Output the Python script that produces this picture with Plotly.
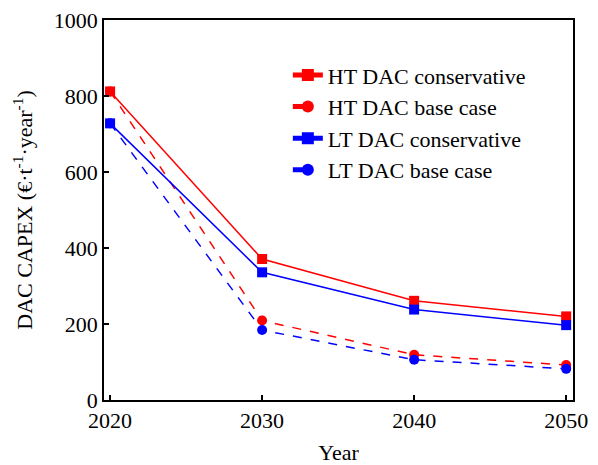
import plotly.graph_objects as go

years = [2020, 2030, 2040, 2050]
ht_conservative = [812, 371, 261, 220]
ht_base = [812, 209, 119, 92]
lt_conservative = [728, 336, 238, 197]
lt_base = [728, 184, 106, 82]

series = [
    ("HT DAC conservative", ht_conservative, "#ff0000", "solid", "square"),
    ("HT DAC base case", ht_base, "#ff0000", "dash", "circle"),
    ("LT DAC conservative", lt_conservative, "#0000ff", "solid", "square"),
    ("LT DAC base case", lt_base, "#0000ff", "dash", "circle"),
]

fig = go.Figure()
for name, vals, color, dash, sym in series:
    fig.add_trace(go.Scatter(
        x=years, y=vals, name=name, mode="lines+markers",
        line=dict(color=color, width=1.5, dash=dash),
        marker=dict(color=color, size=10, symbol=sym),
    ))

font = "Liberation Serif"
tf = dict(family=font, size=22, color="black")
lf = dict(family=font, size=22, color="black")
fig.update_layout(
    width=598, height=465,
    margin=dict(l=104, r=25, t=20, b=65),
    paper_bgcolor="white", plot_bgcolor="white",
    font=dict(family=font, size=22, color="black"),
    showlegend=True,
    legend=dict(x=0.392, y=0.91, xanchor="left", yanchor="top",
                bgcolor="rgba(0,0,0,0)", font=lf,
                tracegroupgap=0, itemsizing="constant"),
    xaxis=dict(
        title=dict(text="Year", font=tf),
        automargin=False,
        tickfont=tf,
        range=[2019.6, 2050.45], tickvals=[2020, 2030, 2040, 2050],
        ticks="inside", ticklen=5, tickwidth=1.5, tickcolor="black",
        showline=True, linecolor="black", linewidth=1.5, mirror=True,
        showgrid=False, zeroline=False,
    ),
    yaxis=dict(
        title=dict(text="DAC CAPEX (€·t<sup>-1</sup>·year<sup>-1</sup>)", font=tf),
        automargin=False,
        tickfont=tf,
        range=[0, 1000], tickvals=[0, 200, 400, 600, 800, 1000],
        ticks="inside", ticklen=5, tickwidth=1.5, tickcolor="black",
        showline=True, linecolor="black", linewidth=1.5, mirror=True,
        showgrid=False, zeroline=False,
    ),
)

fig.write_html("out.html")
